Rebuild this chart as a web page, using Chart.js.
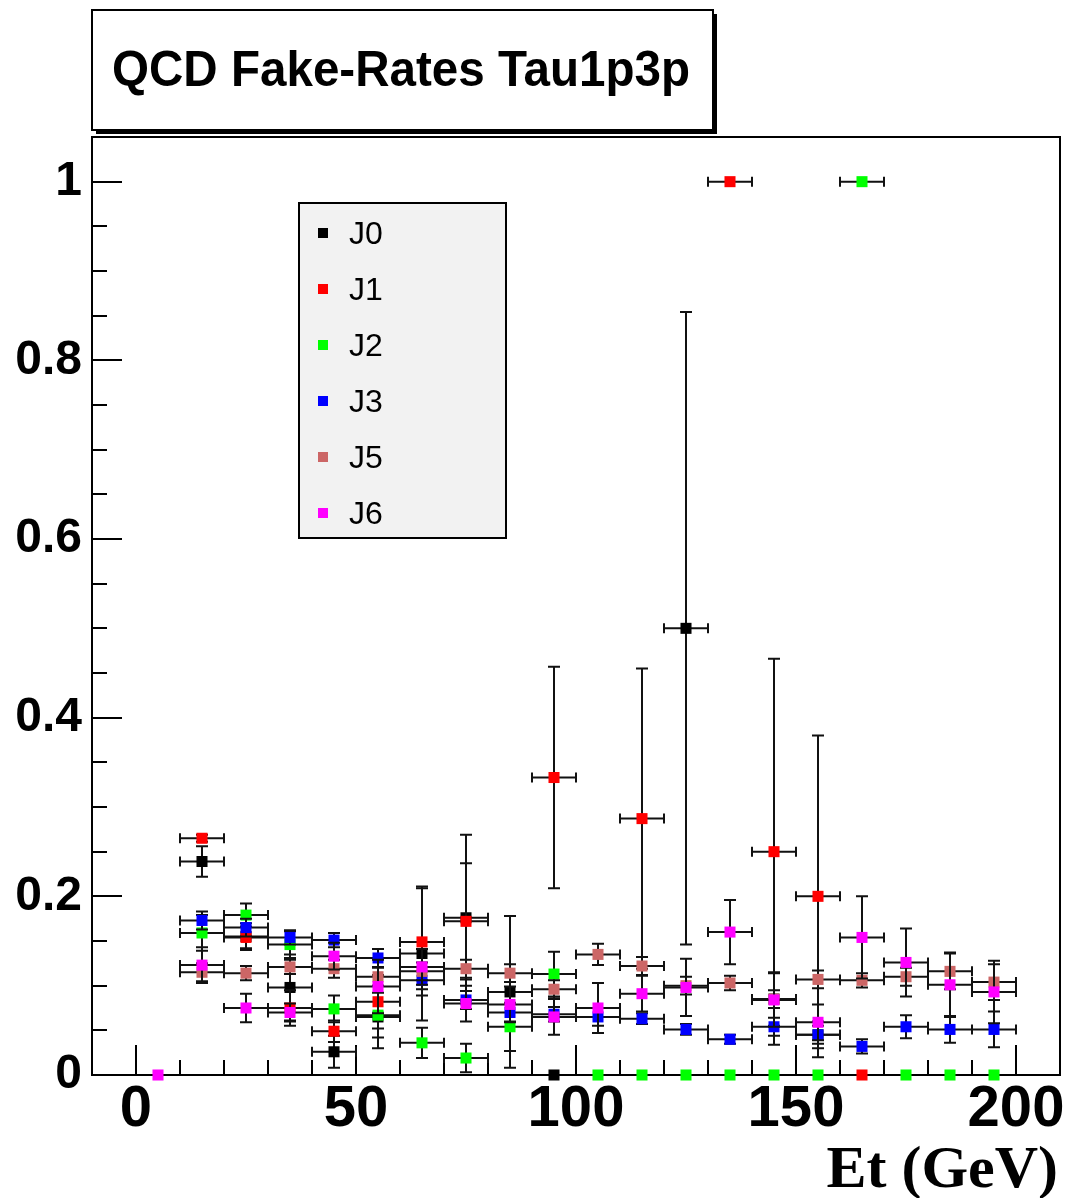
<!DOCTYPE html>
<html>
<head>
<meta charset="utf-8">
<title>QCD Fake-Rates Tau1p3p</title>
<script src="https://cdn.jsdelivr.net/npm/chart.js@4.4.1/dist/chart.umd.min.js"></script>
<style>
    html, body { margin: 0; padding: 0; background: #ffffff; }
    canvas { display: block; }
</style>
</head>
<body>
<canvas id="fake-rate-chart" width="1068" height="1198"></canvas>
<script>
"use strict";

// bin centres (GeV), bins are 10 GeV wide
const et_bins = [5, 15, 25, 35, 45, 55, 65, 75, 85, 95, 105, 115, 125, 135, 145, 155, 165, 175, 185, 195];
const et_half_width = 5;

// fake rates and their errors per sample (null = empty bin)
const j0_rate = [null, 0.239, 0.155, 0.098, 0.026, 0.065, 0.136, 0.176, 0.093, 0, null, null, 0.5, null, 0.085, 0.045, null, null, null, null];
const j0_err  = [null, 0.017, 0.015, 0.037, 0.018, 0.035, 0.075, 0.093, 0.085, 0, null, null, 0.354, null, 0.03, 0.015, null, null, null, null];

const j1_rate = [null, 0.265, 0.154, 0.075, 0.049, 0.082, 0.149, 0.172, null, 0.333, null, 0.287, null, 1.0, 0.25, 0.2, 0, null, null, null];
const j1_err  = [null, 0.004, 0.012, 0.02, 0.012, 0.03, 0.06, 0.065, null, 0.124, null, 0.168, null, 0, 0.216, 0.18, 0, null, null, null];

const j2_rate = [null, 0.159, 0.179, 0.146, 0.074, 0.067, 0.036, 0.019, 0.054, 0.113, 0, 0, 0, 0, 0, 0, 1.0, 0, 0, 0];
const j2_err  = [null, 0.02, 0.013, 0.015, 0.015, 0.025, 0.017, 0.016, 0.027, 0.025, 0, 0, 0, 0, 0, 0, 0, 0, 0, 0];

const j3_rate = [null, 0.173, 0.165, 0.154, 0.151, 0.131, 0.106, 0.084, 0.070, 0.068, 0.065, 0.063, 0.051, 0.040, 0.054, 0.045, 0.032, 0.054, 0.051, 0.051];
const j3_err  = [null, 0.01, 0.01, 0.008, 0.008, 0.01, 0.01, 0.01, 0.01, 0.008, 0.01, 0.006, 0.006, 0.005, 0.01, 0.01, 0.008, 0.013, 0.015, 0.02];

const j5_rate = [null, 0.115, 0.114, 0.121, 0.119, 0.110, 0.116, 0.119, 0.114, 0.096, 0.135, 0.122, 0.100, 0.103, 0.085, 0.107, 0.106, 0.110, 0.116, 0.104];
const j5_err  = [null, 0.01, 0.008, 0.008, 0.01, 0.01, 0.01, 0.01, 0.01, 0.01, 0.012, 0.01, 0.01, 0.008, 0.01, 0.01, 0.008, 0.01, 0.02, 0.02];

const j6_rate = [0, 0.123, 0.075, 0.070, 0.133, 0.099, 0.121, 0.080, 0.079, 0.065, 0.075, 0.091, 0.098, 0.160, 0.084, 0.059, 0.154, 0.126, 0.101, 0.093];
const j6_err  = [0, 0.02, 0.016, 0.01, 0.015, 0.03, 0.02, 0.02, 0.02, 0.02, 0.028, 0.02, 0.032, 0.036, 0.03, 0.02, 0.046, 0.038, 0.036, 0.035];

const series_names  = ['J0', 'J1', 'J2', 'J3', 'J5', 'J6'];
const series_colors = ['#000000', '#ff0000', '#00ff00', '#0000ff', '#cc6666', '#ff00ff'];
const series_rates  = [j0_rate, j1_rate, j2_rate, j3_rate, j5_rate, j6_rate];
const series_errs   = [j0_err, j1_err, j2_err, j3_err, j5_err, j6_err];

const x_tick_values = [0, 50, 100, 150, 200];
const x_tick_labels = ['0', '50', '100', '150', '200'];
const y_tick_values = [0, 0.2, 0.4, 0.6, 0.8, 1];
const y_tick_labels = ['0', '0.2', '0.4', '0.6', '0.8', '1'];

const plot_title = 'QCD Fake-Rates Tau1p3p';
const x_title = 'Et (GeV)';

function build_points (rates, errs) {
    const pts = [];
    for (let i = 0; i < et_bins.length; i++) {
        if (rates[i] === null) continue;
        pts.push({x: et_bins[i], y: rates[i], err: errs[i]});
    }
    return pts;
}

const datasets = series_names.map((name, i) => ({
    label: name,
    data: build_points(series_rates[i], series_errs[i]),
    pointStyle: 'rect',
    pointRadius: 7.8,
    pointHoverRadius: 7.8,
    pointBorderWidth: 0,
    backgroundColor: series_colors[i],
    borderColor: series_colors[i],
    showLine: false,
    clip: false,
    order: series_names.length - i,   // J0 drawn first, J6 on top
}));

// ROOT-like frame, inward ticks, error bars, pave, legend
const root_style = {
    id: 'root_style',
    beforeDatasetsDraw (chart) {
        const ctx = chart.ctx;
        const area = chart.chartArea;
        const xs = chart.scales.x, ys = chart.scales.y;
        ctx.save();
        ctx.strokeStyle = '#000';
        ctx.lineWidth = 2;
        ctx.strokeRect(area.left, area.top, area.right - area.left, area.bottom - area.top);
        ctx.beginPath();
        for (let v = 0; v <= 200 + 1e-9; v += 10) {
            const px = Math.round(xs.getPixelForValue(v));
            const len = (v % 50 === 0) ? 30 : 15;
            ctx.moveTo(px, area.bottom);
            ctx.lineTo(px, area.bottom - len);
        }
        for (let k = 0; k <= 20; k++) {
            const v = k * 0.05;
            const py = Math.round(ys.getPixelForValue(v));
            const len = (k % 4 === 0) ? 30 : 15;
            ctx.moveTo(area.left, py);
            ctx.lineTo(area.left + len, py);
        }
        ctx.stroke();
        ctx.restore();
    },
    beforeDatasetDraw (chart, args) {
        const ctx = chart.ctx;
        const xs = chart.scales.x, ys = chart.scales.y;
        const ds = chart.data.datasets[args.index];
        ctx.save();
        ctx.strokeStyle = '#111';
        ctx.lineWidth = 2;
        ctx.beginPath();
        ds.data.forEach((pt) => {
            if (pt.y === 0 && pt.err === 0) return;
            const px = xs.getPixelForValue(pt.x);
            const py = ys.getPixelForValue(pt.y);
            const x0 = xs.getPixelForValue(pt.x - et_half_width);
            const x1 = xs.getPixelForValue(pt.x + et_half_width);
            ctx.moveTo(x0, py); ctx.lineTo(x1, py);
            ctx.moveTo(x0, py - 5); ctx.lineTo(x0, py + 5);
            ctx.moveTo(x1, py - 5); ctx.lineTo(x1, py + 5);
            if (pt.err > 0) {
                const y0 = ys.getPixelForValue(pt.y - pt.err);
                const y1 = ys.getPixelForValue(pt.y + pt.err);
                ctx.moveTo(px, y0); ctx.lineTo(px, y1);
                ctx.moveTo(px - 6, y0); ctx.lineTo(px + 6, y0);
                ctx.moveTo(px - 6, y1); ctx.lineTo(px + 6, y1);
            }
        });
        ctx.stroke();
        ctx.restore();
    },
    afterDraw (chart) {
        const ctx = chart.ctx;
        ctx.save();
        // title pave with shadow
        ctx.fillStyle = '#000';
        ctx.fillRect(96, 14, 621, 120);
        ctx.fillStyle = '#fff';
        ctx.fillRect(92, 10, 621, 120);
        ctx.strokeStyle = '#000';
        ctx.lineWidth = 2;
        ctx.strokeRect(92, 10, 621, 120);
        ctx.fillStyle = '#000';
        ctx.font = 'bold 50px "Liberation Sans", Arial, sans-serif';
        ctx.textAlign = 'center';
        ctx.textBaseline = 'middle';
        // squeeze to the narrow width of the original lettering
        const title_w = ctx.measureText(plot_title).width;
        const squeeze = Math.min(1, 578 / title_w);
        ctx.save();
        ctx.translate(401, 72);
        ctx.scale(squeeze, 1);
        ctx.fillText(plot_title, 0, 0);
        ctx.restore();

        // legend box
        ctx.fillStyle = '#f2f2f2';
        ctx.fillRect(299, 203, 207, 335);
        ctx.strokeRect(299, 203, 207, 335);
        ctx.font = '32px "Liberation Sans", Arial, sans-serif';
        ctx.textAlign = 'left';
        ctx.textBaseline = 'middle';
        chart.data.datasets.forEach((ds, i) => {
            const cy = 233 + i * 56;
            ctx.fillStyle = ds.backgroundColor;
            ctx.fillRect(318, cy - 5, 10, 10);
            ctx.fillStyle = '#000';
            ctx.fillText(ds.label, 349, cy + 2);
        });

        // x axis title
        ctx.font = 'bold 60px "Liberation Serif", "Times New Roman", serif';
        ctx.textAlign = 'right';
        ctx.textBaseline = 'alphabetic';
        ctx.fillText(x_title, 1058, 1187);
        ctx.restore();
    }
};

const chart_ctx = document.getElementById('fake-rate-chart').getContext('2d');
const fake_rate_chart = new Chart(chart_ctx, {
    type: 'scatter',
    data: { datasets: datasets },
    plugins: [root_style],
    options: {
        responsive: false,
        animation: false,
        events: [],
        layout: { padding: { top: 137, right: 8, left: 0, bottom: 0 } },
        plugins: {
            legend: { display: false },
            tooltip: { enabled: false },
        },
        scales: {
            x: {
                type: 'linear',
                min: -10,
                max: 210,
                afterFit: (s) => { s.height = 123; },
                afterBuildTicks: (s) => { s.ticks = x_tick_values.map((v) => ({value: v})); },
                grid: { display: false, drawTicks: false },
                border: { display: false },
                ticks: {
                    padding: 0,
                    color: '#000',
                    maxRotation: 0,
                    autoSkip: false,
                    font: { family: '"Liberation Sans", Arial, sans-serif', weight: 'bold', size: 58 },
                    callback: (v, i) => x_tick_labels[i],
                },
            },
            y: {
                type: 'linear',
                min: 0,
                max: 1.05,
                afterFit: (s) => { s.width = 92; },
                afterBuildTicks: (s) => { s.ticks = y_tick_values.map((v) => ({value: v})); },
                grid: { display: false, drawTicks: false },
                border: { display: false },
                ticks: {
                    padding: 10,
                    color: '#000',
                    autoSkip: false,
                    font: { family: '"Liberation Sans", Arial, sans-serif', weight: 'bold', size: 48 },
                    callback: (v, i) => y_tick_labels[i],
                },
            },
        },
    },
});
</script>
</body>
</html>
